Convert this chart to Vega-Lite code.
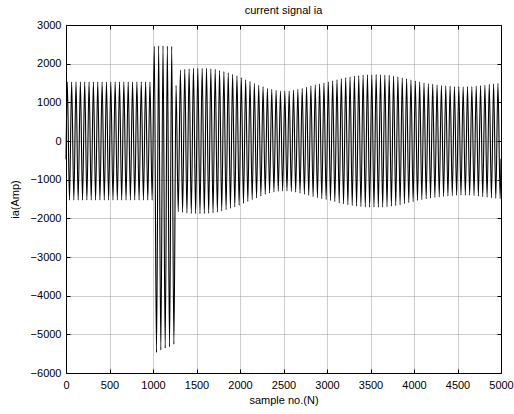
{
  "$schema": "https://vega.github.io/schema/vega-lite/v6.json",
  "width": 435,
  "height": 348,
  "autosize": {"type": "none"},
  "padding": {"left": 66, "top": 25, "right": 13, "bottom": 41},
  "background": "white",
  "title": {"text": "current signal ia", "fontSize": 11, "fontWeight": "normal", "font": "Liberation Sans", "color": "black", "offset": 3},
  "config": {
    "view": {"stroke": "black", "strokeWidth": 1},
    "axis": {
      "domainColor": "black", "domainWidth": 1,
      "tickColor": "black", "tickSize": -4,
      "labelFont": "Liberation Sans", "labelFontSize": 11, "labelColor": "black", "format": "d",
      "titleFont": "Liberation Sans", "titleFontSize": 11, "titleFontWeight": "normal", "titleColor": "black",
      "gridColor": "#9a9a9a", "gridDash": [1, 1], "gridWidth": 1, "gridOpacity": 1
    }
  },
  "data": {"values": [
    {"n":0,"ia":-470},
    {"n":15,"ia":1530},{"n":40,"ia":-1530},{"n":65,"ia":1530},{"n":90,"ia":-1530},{"n":115,"ia":1530},{"n":140,"ia":-1530},{"n":165,"ia":1530},{"n":190,"ia":-1530},{"n":215,"ia":1530},{"n":240,"ia":-1530},
    {"n":265,"ia":1530},{"n":290,"ia":-1530},{"n":315,"ia":1530},{"n":340,"ia":-1530},{"n":365,"ia":1530},{"n":390,"ia":-1530},{"n":415,"ia":1530},{"n":440,"ia":-1530},{"n":465,"ia":1530},{"n":490,"ia":-1530},
    {"n":515,"ia":1530},{"n":540,"ia":-1530},{"n":565,"ia":1530},{"n":590,"ia":-1530},{"n":615,"ia":1530},{"n":640,"ia":-1530},{"n":665,"ia":1530},{"n":690,"ia":-1530},{"n":715,"ia":1530},{"n":740,"ia":-1530},
    {"n":765,"ia":1530},{"n":790,"ia":-1530},{"n":815,"ia":1530},{"n":840,"ia":-1530},{"n":865,"ia":1530},{"n":890,"ia":-1530},{"n":915,"ia":1530},{"n":940,"ia":-1530},{"n":965,"ia":1530},{"n":990,"ia":-1530},
    {"n":1015,"ia":2450},{"n":1040,"ia":-5470},{"n":1065,"ia":2460},{"n":1090,"ia":-5405},{"n":1115,"ia":2460},{"n":1140,"ia":-5360},{"n":1165,"ia":2455},{"n":1190,"ia":-5320},{"n":1215,"ia":2450},{"n":1240,"ia":-5260},
    {"n":1265,"ia":1440},{"n":1290,"ia":-1830},{"n":1315,"ia":1835},{"n":1340,"ia":-1845},{"n":1365,"ia":1855},{"n":1390,"ia":-1862},{"n":1415,"ia":1870},{"n":1440,"ia":-1874},{"n":1465,"ia":1878},{"n":1490,"ia":-1879},
    {"n":1515,"ia":1880},{"n":1540,"ia":-1880},{"n":1565,"ia":1880},{"n":1590,"ia":-1879},{"n":1615,"ia":1878},{"n":1640,"ia":-1873},{"n":1665,"ia":1868},{"n":1690,"ia":-1860},{"n":1715,"ia":1852},{"n":1740,"ia":-1838},
    {"n":1765,"ia":1825},{"n":1790,"ia":-1810},{"n":1815,"ia":1795},{"n":1840,"ia":-1778},{"n":1865,"ia":1762},{"n":1890,"ia":-1743},{"n":1915,"ia":1725},{"n":1940,"ia":-1705},{"n":1965,"ia":1685},{"n":1990,"ia":-1662},
    {"n":2015,"ia":1640},{"n":2040,"ia":-1616},{"n":2065,"ia":1592},{"n":2090,"ia":-1568},{"n":2115,"ia":1545},{"n":2140,"ia":-1520},{"n":2165,"ia":1495},{"n":2190,"ia":-1472},{"n":2215,"ia":1450},{"n":2240,"ia":-1427},
    {"n":2265,"ia":1405},{"n":2290,"ia":-1385},{"n":2315,"ia":1365},{"n":2340,"ia":-1350},{"n":2365,"ia":1335},{"n":2390,"ia":-1322},{"n":2415,"ia":1310},{"n":2440,"ia":-1302},{"n":2465,"ia":1295},{"n":2490,"ia":-1293},
    {"n":2515,"ia":1292},{"n":2540,"ia":-1296},{"n":2565,"ia":1300},{"n":2590,"ia":-1307},{"n":2615,"ia":1315},{"n":2640,"ia":-1326},{"n":2665,"ia":1338},{"n":2690,"ia":-1351},{"n":2715,"ia":1365},{"n":2740,"ia":-1380},
    {"n":2765,"ia":1395},{"n":2790,"ia":-1410},{"n":2815,"ia":1425},{"n":2840,"ia":-1440},{"n":2865,"ia":1455},{"n":2890,"ia":-1467},{"n":2915,"ia":1480},{"n":2940,"ia":-1492},{"n":2965,"ia":1505},{"n":2990,"ia":-1516},
    {"n":3015,"ia":1528},{"n":3040,"ia":-1541},{"n":3065,"ia":1555},{"n":3090,"ia":-1572},{"n":3115,"ia":1590},{"n":3140,"ia":-1602},{"n":3165,"ia":1615},{"n":3190,"ia":-1627},{"n":3215,"ia":1640},{"n":3240,"ia":-1650},
    {"n":3265,"ia":1660},{"n":3290,"ia":-1669},{"n":3315,"ia":1678},{"n":3340,"ia":-1685},{"n":3365,"ia":1692},{"n":3390,"ia":-1697},{"n":3415,"ia":1703},{"n":3440,"ia":-1706},{"n":3465,"ia":1710},{"n":3490,"ia":-1712},
    {"n":3515,"ia":1715},{"n":3540,"ia":-1715},{"n":3565,"ia":1716},{"n":3590,"ia":-1715},{"n":3615,"ia":1714},{"n":3640,"ia":-1711},{"n":3665,"ia":1708},{"n":3690,"ia":-1702},{"n":3715,"ia":1697},{"n":3740,"ia":-1688},
    {"n":3765,"ia":1680},{"n":3790,"ia":-1670},{"n":3815,"ia":1660},{"n":3840,"ia":-1648},{"n":3865,"ia":1637},{"n":3890,"ia":-1624},{"n":3915,"ia":1612},{"n":3940,"ia":-1598},{"n":3965,"ia":1585},{"n":3990,"ia":-1570},
    {"n":4015,"ia":1555},{"n":4040,"ia":-1542},{"n":4065,"ia":1530},{"n":4090,"ia":-1519},{"n":4115,"ia":1508},{"n":4140,"ia":-1498},{"n":4165,"ia":1488},{"n":4190,"ia":-1479},{"n":4215,"ia":1470},{"n":4240,"ia":-1462},
    {"n":4265,"ia":1455},{"n":4290,"ia":-1447},{"n":4315,"ia":1440},{"n":4340,"ia":-1434},{"n":4365,"ia":1428},{"n":4390,"ia":-1423},{"n":4415,"ia":1418},{"n":4440,"ia":-1414},{"n":4465,"ia":1410},{"n":4490,"ia":-1407},
    {"n":4515,"ia":1405},{"n":4540,"ia":-1404},{"n":4565,"ia":1403},{"n":4590,"ia":-1404},{"n":4615,"ia":1405},{"n":4640,"ia":-1407},{"n":4665,"ia":1410},{"n":4690,"ia":-1415},{"n":4715,"ia":1420},{"n":4740,"ia":-1427},
    {"n":4765,"ia":1435},{"n":4790,"ia":-1442},{"n":4815,"ia":1450},{"n":4840,"ia":-1457},{"n":4865,"ia":1465},{"n":4890,"ia":-1471},{"n":4915,"ia":1478},{"n":4940,"ia":-1484},{"n":4965,"ia":1490},{"n":4990,"ia":-1495},
    {"n":5000,"ia":-460}
  ]},
  "layer": [
    {
      "mark": {"type": "line", "interpolate": "monotone", "color": "black", "strokeWidth": 1.1},
      "encoding": {
        "x": {"field": "n", "type": "quantitative", "scale": {"domain": [0, 5000], "nice": false},
              "axis": {"values": [0,500,1000,1500,2000,2500,3000,3500,4000,4500,5000], "title": "sample no.(N)", "labelPadding": 10, "titlePadding": 4, "labelFlush": false}},
        "y": {"field": "ia", "type": "quantitative", "scale": {"domain": [-6000, 3000], "nice": false},
              "axis": {"values": [-6000,-5000,-4000,-3000,-2000,-1000,0,1000,2000,3000], "title": "ia(Amp)", "labelPadding": 9, "titlePadding": 10, "labelFlush": false}}
      }
    },
    {
      "mark": {"type": "point", "opacity": 0},
      "encoding": {
        "x": {"field": "n", "type": "quantitative", "axis": {"orient": "top", "values": [0,500,1000,1500,2000,2500,3000,3500,4000,4500,5000], "labels": false, "grid": false, "title": null}},
        "y": {"field": "ia", "type": "quantitative", "axis": {"orient": "right", "values": [-6000,-5000,-4000,-3000,-2000,-1000,0,1000,2000,3000], "labels": false, "grid": false, "title": null}}
      }
    }
  ],
  "resolve": {"axis": {"x": "independent", "y": "independent"}}
}
